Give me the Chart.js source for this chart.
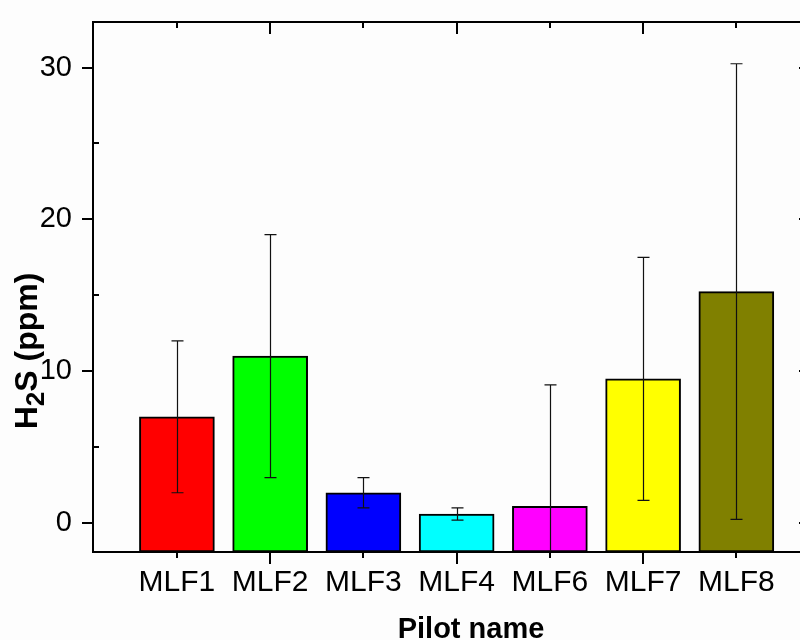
<!DOCTYPE html>
<html>
<head>
<meta charset="utf-8">
<script src="https://cdn.jsdelivr.net/npm/chart.js@4.4.0/dist/chart.umd.min.js"></script>
<style>
html, body { margin: 0; padding: 0; background: #fff; overflow: hidden; width: 800px; height: 640px; }
#wrap { width: 800px; height: 640px; overflow: hidden; }
</style>
</head>
<body>
<div id="wrap"><canvas id="grafico" width="830" height="640"></canvas></div>
<script>
/* Datos */
const pilotos = ["MLF1", "MLF2", "MLF3", "MLF4", "MLF6", "MLF7", "MLF8"];
const h2s = [7.0, 11.0, 2.0, 0.6, 1.1, 9.5, 15.25];
const errorH2s = [5.0, 8.0, 1.0, 0.4, 8.0, 8.0, 15.0];
const colores = ["#ff0000", "#00ff00", "#0000ff", "#00ffff", "#ff00ff", "#ffff00", "#808000"];
const ticksY = [0, 10, 20, 30];
const ticksYMenores = [5, 15, 25];

const fuente = "'Liberation Sans', Arial, sans-serif";

//Barras de error dibujadas con las escalas del gráfico
const barrasError = {
	id: "barrasError",
	afterDatasetsDraw(chart) {
		const { ctx, chartArea: a, scales: { x, y } } = chart;
		ctx.save();
		ctx.beginPath();
		ctx.rect(a.left, a.top, a.right - a.left, a.bottom - a.top);
		ctx.clip();
		ctx.strokeStyle = "#111";
		ctx.lineWidth = 1.2;
		h2s.forEach((v, i) => {
			const px = Math.round(x.getPixelForValue(i)) + 0.5;
			const alto = y.getPixelForValue(v + errorH2s[i]);
			const bajo = y.getPixelForValue(v - errorH2s[i]);
			ctx.beginPath();
			ctx.moveTo(px, alto);
			ctx.lineTo(px, bajo);
			ctx.moveTo(px - 6, alto);
			ctx.lineTo(px + 6, alto);
			if (bajo < a.bottom) {
				ctx.moveTo(px - 6, bajo);
				ctx.lineTo(px + 6, bajo);
			}
			ctx.stroke();
		});
		ctx.restore();
	},
};

//Marco y marcas de los ejes
const marco = {
	id: "marco",
	afterDraw(chart) {
		const { ctx, chartArea: a, scales: { x, y } } = chart;
		ctx.save();
		ctx.strokeStyle = "#000";
		ctx.lineWidth = 2;
		ctx.beginPath();
		ctx.rect(a.left, a.top, a.right - a.left, a.bottom - a.top);
		pilotos.forEach((p, i) => {
			const px = Math.round(x.getPixelForValue(i));
			const largo = i % 2 ? 12 : 6;
			ctx.moveTo(px, a.bottom);
			ctx.lineTo(px, a.bottom + largo);
			ctx.moveTo(px, a.top);
			ctx.lineTo(px, a.top + largo);
		});
		ticksY.forEach((v) => {
			const py = Math.round(y.getPixelForValue(v));
			ctx.moveTo(a.left - 11, py);
			ctx.lineTo(a.left, py);
			ctx.moveTo(a.right - 11, py);
			ctx.lineTo(a.right, py);
		});
		ticksYMenores.forEach((v) => {
			const py = Math.round(y.getPixelForValue(v));
			ctx.moveTo(a.left, py);
			ctx.lineTo(a.left + 6, py);
			ctx.moveTo(a.right, py);
			ctx.lineTo(a.right + 6, py);
		});
		ctx.stroke();

		//Títulos de los ejes
		ctx.fillStyle = "#000";
		ctx.textBaseline = "alphabetic";
		ctx.font = "bold 29px " + fuente;
		ctx.textAlign = "center";
		ctx.fillText("Pilot name", 471, 638);

		ctx.textAlign = "left";
		ctx.translate(37, 351);
		ctx.rotate(-Math.PI / 2);
		const fNormal = "bold 32px " + fuente;
		const fSub = "bold 26px " + fuente;
		const partes = [["H", fNormal, 0], ["2", fSub, 7], ["S (ppm)", fNormal, 0]];
		let total = 0;
		partes.forEach(([t, f]) => { ctx.font = f; total += ctx.measureText(t).width; });
		let pos = -total / 2;
		partes.forEach(([t, f, dy]) => {
			ctx.font = f;
			ctx.fillText(t, pos, dy);
			pos += ctx.measureText(t).width;
		});
		ctx.restore();
	},
};

const fondo = {
	id: "fondo",
	beforeDraw(chart) {
		const ctx = chart.ctx;
		ctx.save();
		ctx.fillStyle = "#fdfdfd";
		ctx.fillRect(0, 0, chart.width, chart.height);
		ctx.restore();
	},
};

const plotRef = document.getElementById("grafico");

let config = {
	type: "bar",
	data: {
		datasets: [
			{
				label: "H2S",
				data: pilotos.map((p, i) => ({ x: i, y: h2s[i] })),
				backgroundColor: colores,
				borderColor: "#000",
				borderWidth: 2,
				borderSkipped: false,
				barThickness: 75,
				base: -1.9,
			},
		],
	},
	options: {
		responsive: false,
		animation: false,
		layout: { padding: { left: 0, top: 22, right: 20, bottom: 0 } },
		plugins: { legend: { display: false }, tooltip: { enabled: false } },
		scales: {
			x: {
				type: "linear",
				offset: false,
				min: -0.9,
				max: 6.79,
				grid: { display: false, drawTicks: false },
				border: { display: false },
				afterBuildTicks: (s) => { s.ticks = pilotos.map((p, i) => ({ value: i })); },
				afterFit: (s) => { s.height = 88; s.paddingLeft = 0; s.paddingRight = 0; },
				ticks: {
					autoSkip: false,
					maxRotation: 0,
					padding: 13,
					color: "#000",
					font: { family: fuente, size: 30 },
					callback: (v) => pilotos[v],
				},
			},
			y: {
				min: -1.9,
				max: 33,
				grid: { display: false, drawTicks: false },
				border: { display: false },
				afterBuildTicks: (s) => { s.ticks = ticksY.map((v) => ({ value: v })); },
				afterFit: (s) => { s.width = 93; s.paddingTop = 0; s.paddingBottom = 0; },
				ticks: {
					padding: 21,
					color: "#000",
					font: { family: fuente, size: 29 },
					callback: (v) => String(v),
				},
			},
		},
	},
	plugins: [fondo, barrasError, marco],
};

let chart = new Chart(plotRef, config);
</script>
</body>
</html>
